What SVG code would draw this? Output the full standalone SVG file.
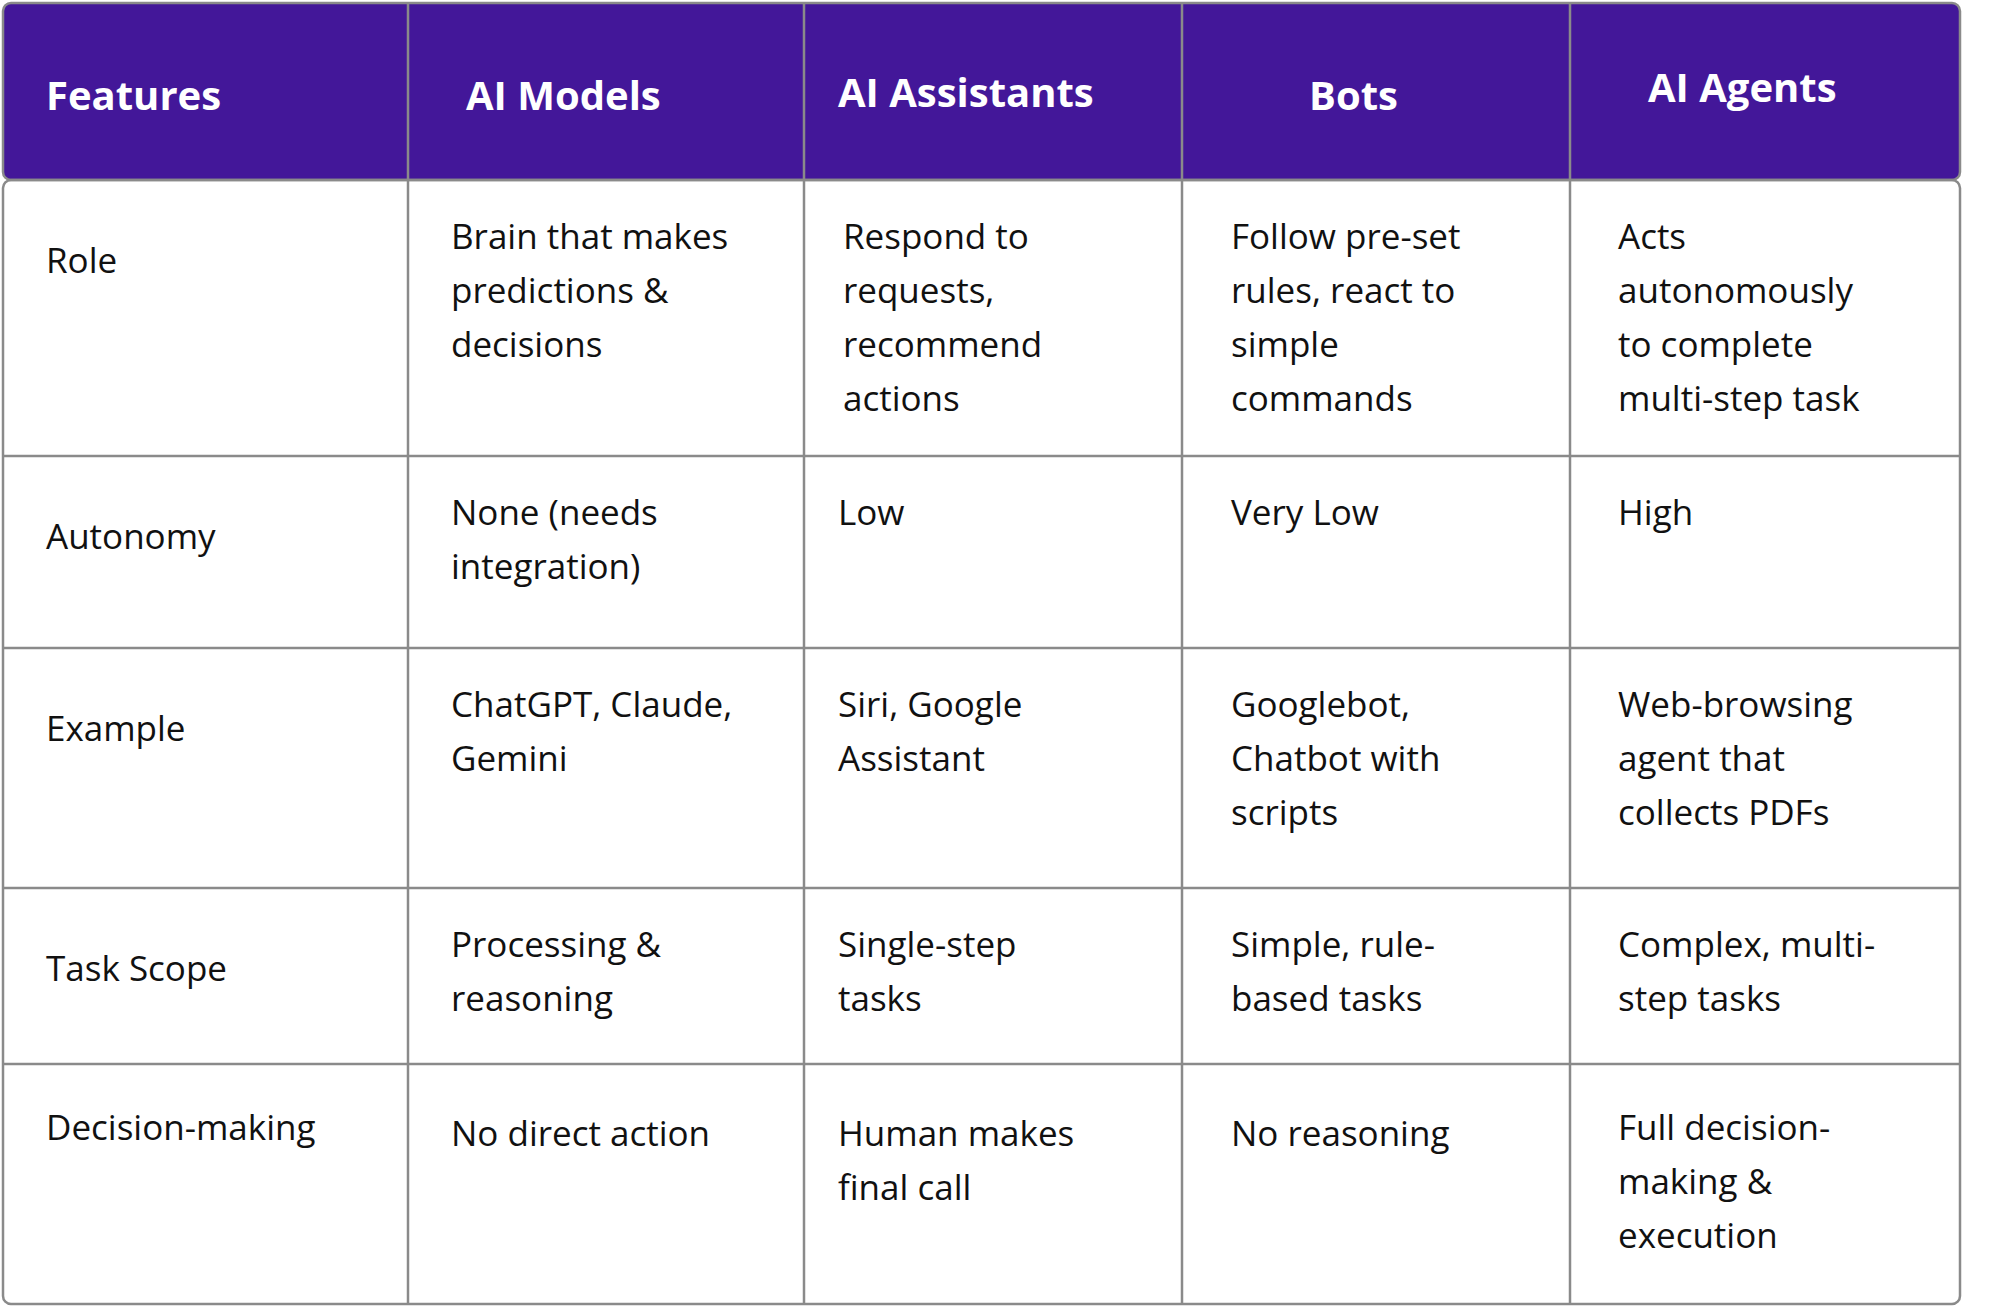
<svg xmlns="http://www.w3.org/2000/svg" width="1991" height="1316" viewBox="0 0 1991 1316">
<style>
.h{font-family:"Open Sans","Liberation Sans",sans-serif;font-weight:700;font-size:40px;fill:#fff}
.t{font-family:"Open Sans","Liberation Sans",sans-serif;font-size:35px;fill:#111}
.g{stroke:#8a8a8a;stroke-width:2.5;fill:none}
</style>
<rect width="1991" height="1316" fill="#fff"/>
<g id="header"><rect x="3" y="3" width="1957" height="177" rx="8" class="g" style="fill:#431799"/>
<text class="h" x="46" y="110">Features</text><text class="h" x="466" y="110">AI Models</text><text class="h" x="838" y="107">AI Assistants</text><text class="h" x="1309" y="110">Bots</text><text class="h" x="1648" y="102">AI Agents</text></g>
<g id="grid">
<rect class="g" x="3" y="180" width="1957" height="1124" rx="8"/>
<path class="g" d="M3 456H1960M3 648H1960M3 888H1960M3 1064H1960M408 3V1304M804 3V1304M1182 3V1304M1570 3V1304"/>
</g>
<g id="row-role"><text class="t" x="46" y="273">Role</text>
<text class="t" x="451" y="249">Brain that makes<tspan x="451" dy="54">predictions &amp;</tspan><tspan x="451" dy="54">decisions</tspan></text>
<text class="t" x="843" y="249">Respond to<tspan x="843" dy="54">requests,</tspan><tspan x="843" dy="54">recommend</tspan><tspan x="843" dy="54">actions</tspan></text>
<text class="t" x="1231" y="249">Follow pre-set<tspan x="1231" dy="54">rules, react to</tspan><tspan x="1231" dy="54">simple</tspan><tspan x="1231" dy="54">commands</tspan></text>
<text class="t" x="1618" y="249">Acts<tspan x="1618" dy="54">autonomously</tspan><tspan x="1618" dy="54">to complete</tspan><tspan x="1618" dy="54">multi-step task</tspan></text></g>
<g id="row-autonomy"><text class="t" x="46" y="549">Autonomy</text>
<text class="t" x="451" y="525">None (needs<tspan x="451" dy="54">integration)</tspan></text>
<text class="t" x="838" y="525">Low</text><text class="t" x="1231" y="525">Very Low</text><text class="t" x="1618" y="525">High</text></g>
<g id="row-example"><text class="t" x="46" y="741">Example</text>
<text class="t" x="451" y="717">ChatGPT, Claude,<tspan x="451" dy="54">Gemini</tspan></text>
<text class="t" x="838" y="717">Siri, Google<tspan x="838" dy="54">Assistant</tspan></text>
<text class="t" x="1231" y="717">Googlebot,<tspan x="1231" dy="54">Chatbot with</tspan><tspan x="1231" dy="54">scripts</tspan></text>
<text class="t" x="1618" y="717">Web-browsing<tspan x="1618" dy="54">agent that</tspan><tspan x="1618" dy="54">collects PDFs</tspan></text></g>
<g id="row-scope"><text class="t" x="46" y="981">Task Scope</text>
<text class="t" x="451" y="957">Processing &amp;<tspan x="451" dy="54">reasoning</tspan></text>
<text class="t" x="838" y="957">Single-step<tspan x="838" dy="54">tasks</tspan></text>
<text class="t" x="1231" y="957">Simple, rule-<tspan x="1231" dy="54">based tasks</tspan></text>
<text class="t" x="1618" y="957">Complex, multi-<tspan x="1618" dy="54">step tasks</tspan></text></g>
<g id="row-decision"><text class="t" x="46" y="1140">Decision-making</text>
<text class="t" x="451" y="1146">No direct action</text>
<text class="t" x="838" y="1146">Human makes<tspan x="838" dy="54">final call</tspan></text>
<text class="t" x="1231" y="1146">No reasoning</text>
<text class="t" x="1618" y="1140">Full decision-<tspan x="1618" dy="54">making &amp;</tspan><tspan x="1618" dy="54">execution</tspan></text></g>
</svg>
